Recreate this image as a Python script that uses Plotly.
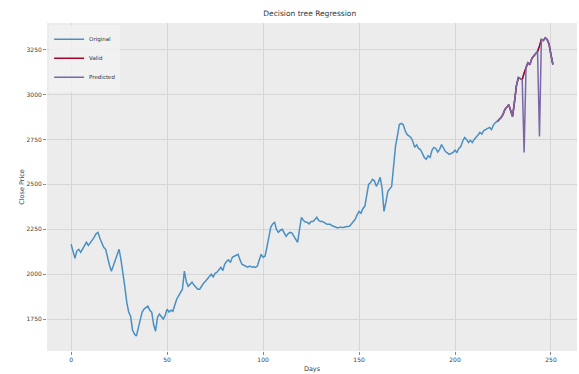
import plotly.graph_objects as go

# Closing price per trading day
close_price = [
    2167, 2120, 2089, 2130, 2139, 2122, 2140, 2165, 2178, 2160,
    2175, 2183, 2205, 2225, 2233, 2200, 2178, 2150, 2139, 2090,
    2050, 2017, 2050, 2083, 2110, 2139, 2080, 2011, 1930, 1844,
    1790, 1767, 1690, 1667, 1656, 1700, 1750, 1790, 1806, 1815,
    1822, 1800, 1789, 1720, 1683, 1760, 1778, 1765, 1750, 1770,
    1806, 1790, 1800, 1794, 1830, 1861, 1880, 1900, 1917, 2017,
    1960, 1933, 1945, 1956, 1940, 1925, 1917, 1917, 1935, 1950,
    1961, 1975, 1990, 2000, 1985, 2005, 2011, 2025, 2039, 2020,
    2055, 2072, 2080, 2065, 2094, 2100, 2105, 2111, 2080, 2056,
    2050, 2044, 2040, 2045, 2040, 2042, 2038, 2044, 2080, 2111,
    2095, 2100, 2150, 2210, 2261, 2280, 2289, 2250, 2233, 2245,
    2250, 2230, 2211, 2225, 2233, 2230, 2210, 2190, 2178, 2250,
    2317, 2300, 2290, 2289, 2280, 2294, 2294, 2305, 2317, 2300,
    2294, 2294, 2285, 2280, 2278, 2278, 2270, 2265, 2261, 2258,
    2262, 2261, 2260, 2264, 2267, 2267, 2280, 2295, 2306, 2330,
    2350, 2340, 2365, 2378, 2430, 2500, 2510, 2528, 2520, 2489,
    2510, 2539, 2480, 2350, 2400, 2461, 2475, 2489, 2600, 2711,
    2770, 2833, 2840, 2833, 2800, 2778, 2770, 2761, 2740, 2706,
    2720, 2700, 2694, 2670, 2650, 2640, 2660, 2650, 2690, 2706,
    2700, 2680, 2695, 2722, 2700, 2683, 2675, 2667, 2672, 2678,
    2690, 2678, 2700, 2711, 2740, 2761, 2750, 2733, 2745, 2733,
    2750, 2761, 2775, 2789, 2780, 2800, 2806, 2812, 2817, 2805,
    2830, 2844, 2850, 2861, 2872, 2890, 2917, 2930, 2944, 2910,
    2878, 2960, 3050, 3094, 3088, 3083, 3120, 3150, 3178, 3165,
    3200, 3215, 3230, 3239, 3270, 3306, 3300, 3315, 3306, 3280,
    3220, 3167,
]
days = list(range(len(close_price)))

# Validation window (last 30 days)
valid_start = 222
valid_days = days[valid_start:]
valid_close = close_price[valid_start:]

# Decision tree predictions for the validation window
predicted = [
    2850, 2861, 2872, 2890, 2917, 2930, 2944, 2910, 2878, 2960,
    3050, 3094, 3088, 3083, 2678, 3150, 3178, 3165, 3200, 3215,
    3230, 3239, 2767, 3306, 3300, 3315, 3306, 3280, 3220, 3167,
]

x_ticks = [0, 50, 100, 150, 200, 250]
y_ticks = [1750, 2000, 2250, 2500, 2750, 3000, 3250]

fig = go.Figure()
fig.add_trace(go.Scatter(x=days, y=close_price, mode="lines", name="Original",
                         line=dict(color="#4a90c2", width=1.5)))
fig.add_trace(go.Scatter(x=valid_days, y=valid_close, mode="lines", name="Valid",
                         line=dict(color="#A60628", width=1.5)))
fig.add_trace(go.Scatter(x=valid_days, y=predicted, mode="lines", name="Predicted",
                         line=dict(color="#7A68A6", width=1.5)))

font_family = "DejaVu Sans"
fig.update_layout(
    width=579, height=374,
    margin=dict(l=47, r=2, t=23, b=21),
    paper_bgcolor="white",
    plot_bgcolor="#ececec",
    font=dict(family=font_family, size=6, color="#444444"),
    title=dict(text="Decision tree Regression", x=0.535, xanchor="center",
               y=1 - 13 / 374, yanchor="middle", yref="container",
               font=dict(size=7.5, color="#333333")),
    showlegend=True,
    legend=dict(x=0.004, y=0.995, xanchor="left", yanchor="top",
                bgcolor="rgba(242,242,242,0.85)", borderwidth=0,
                font=dict(size=5.5, color="#333333"), tracegroupgap=0,
                itemwidth=30),
)
fig.update_xaxes(
    range=[-12.55, 263.55], tickvals=x_ticks, ticktext=[str(t) for t in x_ticks],
    showgrid=True, gridcolor="#d6d6d6", gridwidth=0.8,
    zeroline=False, ticks="outside", ticklen=3, tickcolor="#888888",
    showline=False,
    title=dict(text="Days", font=dict(size=6.5), standoff=4),
)
fig.update_yaxes(
    range=[1573, 3398], tickvals=y_ticks, ticktext=[str(t) for t in y_ticks],
    showgrid=True, gridcolor="#d6d6d6", gridwidth=0.8,
    zeroline=False, ticks="outside", ticklen=3, tickcolor="#888888",
    showline=False,
    title=dict(text="Close Price", font=dict(size=6.5), standoff=1),
)

fig.write_html("out.html")
